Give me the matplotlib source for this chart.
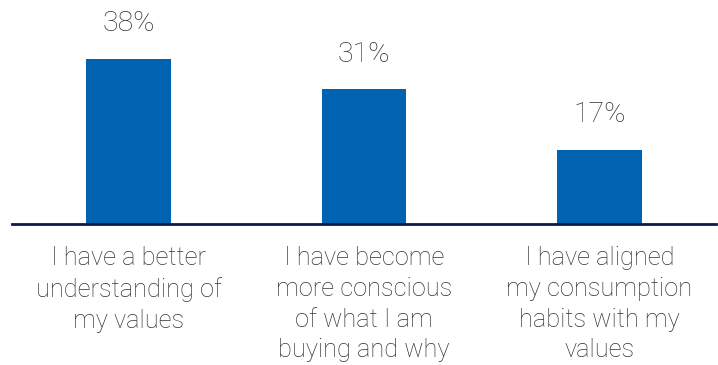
import matplotlib.pyplot as plt

categorias = ['I have a better\nunderstanding of\nmy values',
              'I have become\nmore conscious\nof what I am\nbuying and why',
              'I have aligned\nmy consumption\nhabits with my\nvalues']
porcentajes = [38, 31, 17]

azul = '#0063b1'
linea = '#0b1c4a'
texto = '#333333'

plt.rcParams['font.family'] = ['Roboto', 'DejaVu Sans']

fig = plt.figure(figsize=(7.18, 3.65), dpi=100)
ax = fig.add_axes([12 / 718, 1 - 224 / 365, 704 / 718, 217 / 365])

x = range(len(categorias))
ax.bar(x, porcentajes, width=0.361, color=azul, zorder=2)
ax.set_xlim(-0.495, 2.495)
ax.set_ylim(0, 50)

# linea base debajo de las barras
ax.axhline(0, color=linea, linewidth=2, zorder=3, clip_on=False)

for i, v in enumerate(porcentajes):
    ax.annotate(f'{v}%', (i, v), xytext=(0, 25.5), textcoords='offset points',
                ha='center', va='center', fontsize=20.5, color=texto,
                fontweight='light')
    ax.annotate(categorias[i], (i, 0), xytext=(0, -16), textcoords='offset points',
                ha='center', va='top', fontsize=18.3, color=texto,
                fontweight='light', linespacing=1.355)

for s in ax.spines.values():
    s.set_visible(False)
ax.set_xticks([])
ax.set_yticks([])

fig.savefig('out.png', dpi=100)
